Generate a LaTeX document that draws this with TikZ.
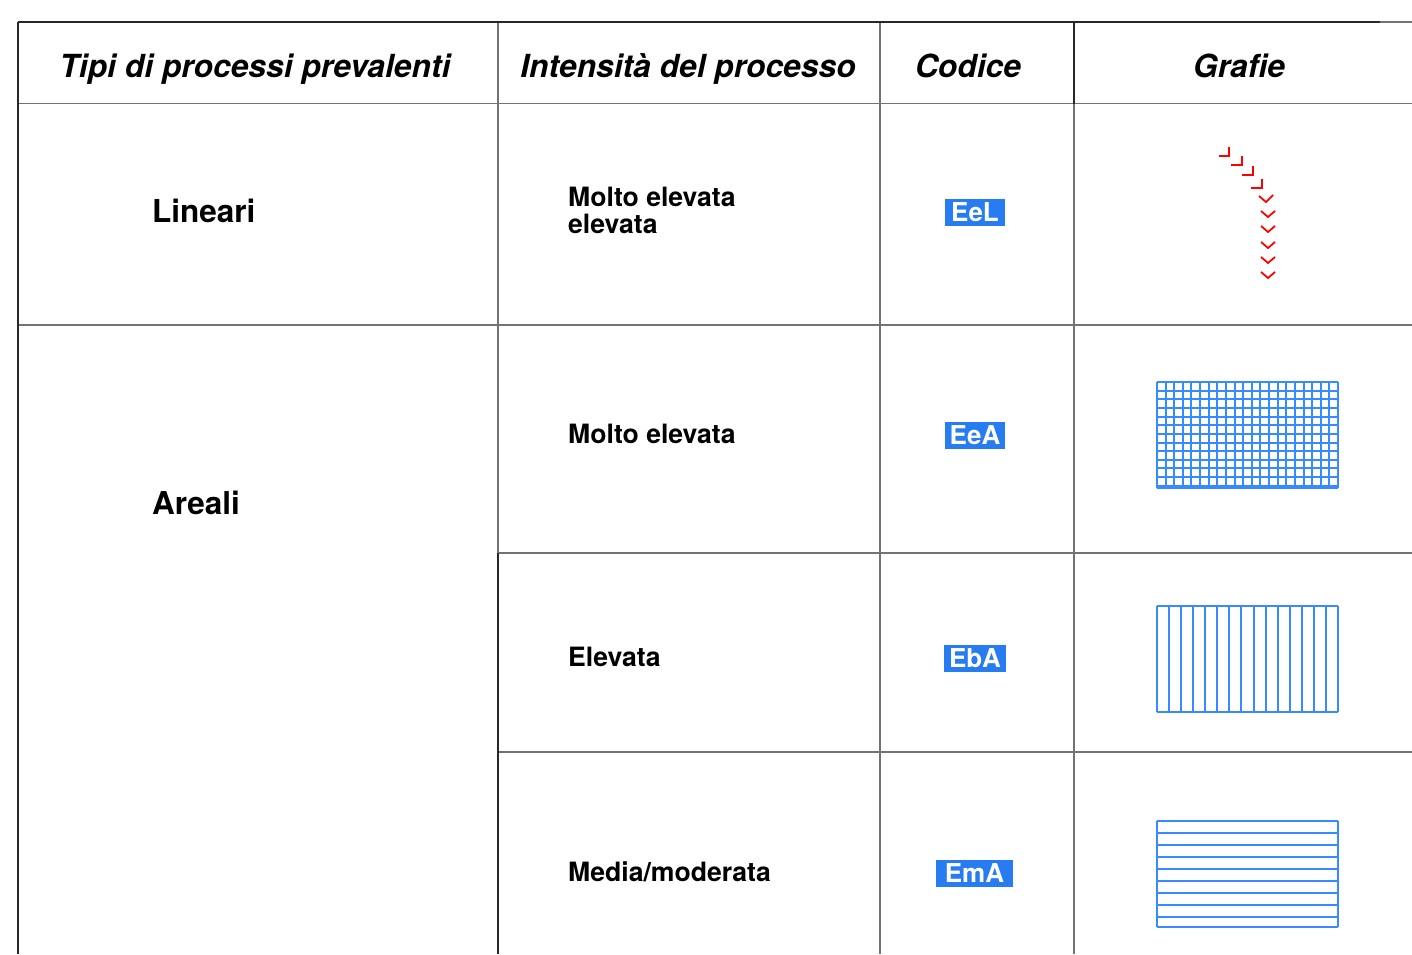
\documentclass[tikz,border=0pt]{standalone}
\usepackage{fontspec}
\setmainfont{TeX Gyre Heros}
\definecolor{codeblue}{RGB}{38,124,240}
\definecolor{gridblue}{RGB}{55,138,255}
\definecolor{linegray}{RGB}{115,115,115}
\definecolor{linedark}{RGB}{40,40,40}
\tikzset{
 hdr/.style={font=\fontsize{31.8}{34}\selectfont\bfseries\itshape, inner sep=0, anchor=base},
 big/.style={font=\fontsize{31.5}{34}\selectfont\bfseries, inner sep=0, anchor=base west},
 mid/.style={font=\fontsize{26.6}{27}\selectfont\bfseries, inner sep=0, anchor=base west},
 code/.style={fill=codeblue, text=white, font=\fontsize{26}{27}\selectfont\bfseries, inner sep=0, minimum height=27pt},
 gline/.style={draw=linegray, line width=1.3pt},
 dline/.style={draw=linedark, line width=1.3pt},
 gridl/.style={draw=gridblue, line width=1.5pt},
 chev/.style={draw=red, line width=1.8pt},
}
\begin{document}
\begin{tikzpicture}[x=1pt,y=-1pt]
\useasboundingbox (0,0) rectangle (1412,954);
% table rules
\draw[gline] (18,103.5) -- (1412,103.5);
\draw[gline] (18,325) -- (1412,325);
\draw[gline] (498,553) -- (1412,553);
\draw[gline] (498,752) -- (1412,752);
\draw[gline] (498,22) -- (498,553);
\draw[dline] (498,553) -- (498,954);
\draw[gline] (880,22) -- (880,954);
\draw[dline] (1074,22) -- (1074,103.5);
\draw[gline] (1074,103.5) -- (1074,954);
\draw[gline] (1380,22) -- (1412,22);
\draw[dline] (18,22) -- (1380,22);
\draw[dline] (18,22) -- (18,954);
% headers
\node[hdr] (h1) at (255,77) {Tipi di processi prevalenti};
\node[hdr] (h2) at (688,77) {Intensità del processo};
\node[hdr] (h3) at (968,77) {Codice};
\node[hdr] (h4) at (1239,77) {Grafie};
% first column
\node[big] (lin) at (152,222) {Lineari};
\node[big] (are) at (152,514) {Areali};
% second column
\node[mid] (i1a) at (568,206) {Molto elevata};
\node[mid] (i1b) at (568,233) {elevata};
\node[mid] (i2) at (568,443) {Molto elevata};
\node[mid] (i3) at (568,666) {Elevata};
\node[mid] (i4) at (568,881) {Media/moderata};
% codes
\node[code, minimum width=60pt] (c1) at (975,212.5) {EeL};
\node[code, minimum width=60pt] (c2) at (975,435) {EeA};
\node[code, minimum width=62pt] (c3) at (975,658.5) {EbA};
\node[code, minimum width=77pt] (c4) at (974.5,873.5) {EmA};
% linear symbol
\foreach \a/\b/\c in {1219/1229/156, 1231/1242/165, 1242/1253/175, 1251/1262/188}
  \draw[chev] (\a,\c) -- (\b,\c) -- (\b,\c-9);
\draw[chev] (1259,196) -- (1266,202) -- (1273,195);
\foreach \y in {217,232,248,263,278}
  \draw[chev] (1261,\y-6) -- (1268,\y) -- (1275,\y-6);
% grid EeA
\foreach \i in {0,...,21}{
  \pgfmathsetmacro{\xx}{round(1157+\i*8.619)}
  \draw[gridl] (\xx,382) -- (\xx,488);}
\foreach \j in {0,...,12}{
  \pgfmathsetmacro{\yy}{round(382+\j*8.65)}
  \draw[gridl] (1157,\yy) -- (1338,\yy);}
\draw[gridl] (1157,488) -- (1338,488);
% vertical lines EbA
\foreach \i in {0,...,15}{
  \pgfmathsetmacro{\xx}{round(1157+\i*12.0667)}
  \draw[gridl] (\xx,606) -- (\xx,712);}
\draw[gridl] (1157,606) -- (1338,606);
\draw[gridl] (1157,712) -- (1338,712);
% horizontal lines EmA
\foreach \j in {0,...,8}{
  \pgfmathsetmacro{\yy}{round(821+\j*12)}
  \draw[gridl] (1157,\yy) -- (1338,\yy);}
\draw[gridl] (1157,927) -- (1338,927);
\draw[gridl] (1157,821) -- (1157,927);
\draw[gridl] (1338,821) -- (1338,927);
\end{tikzpicture}
\end{document}
